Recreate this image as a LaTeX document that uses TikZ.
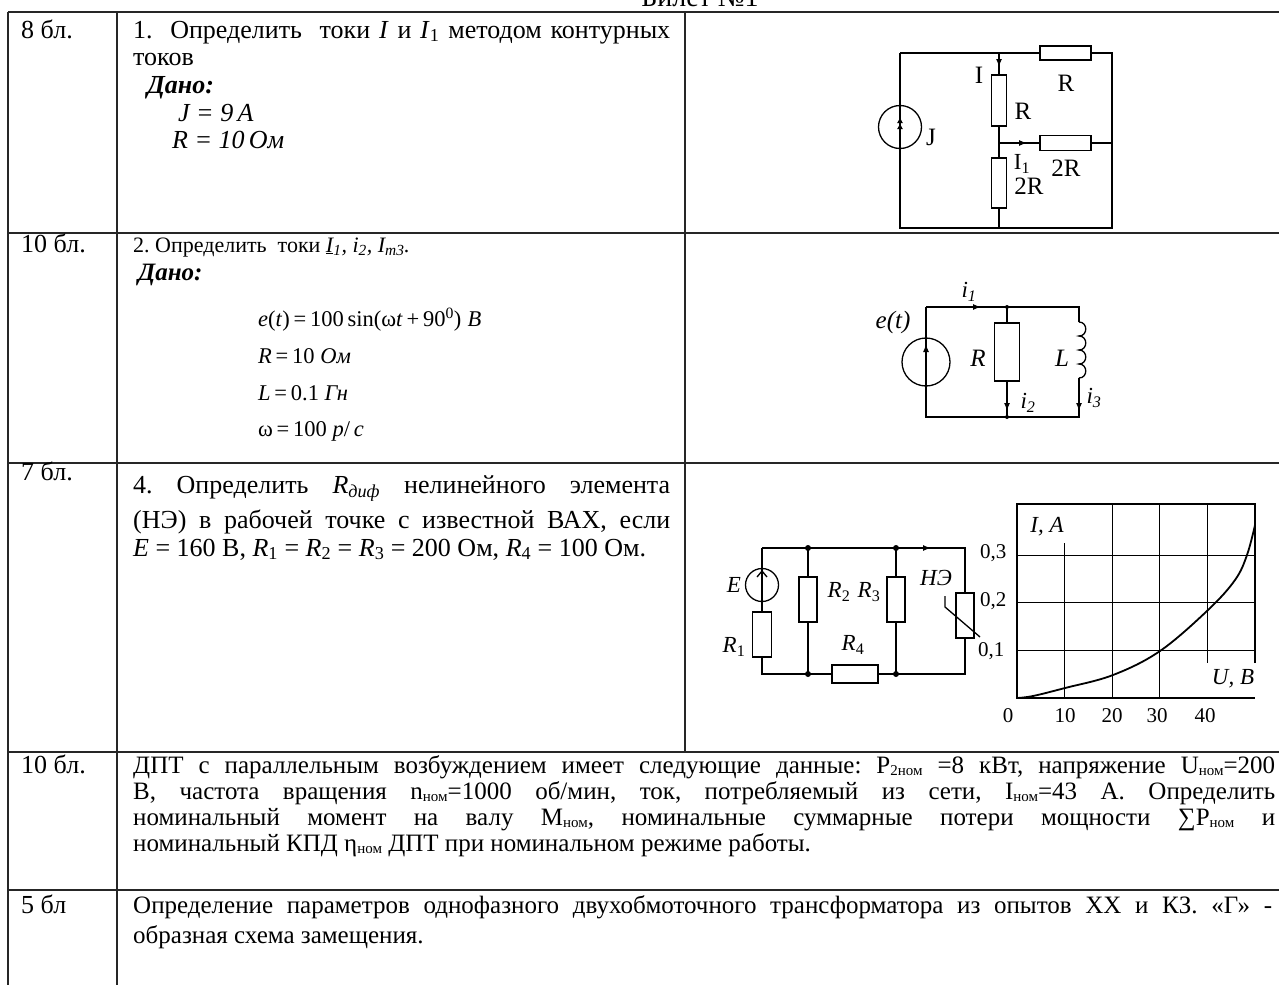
\documentclass[tikz,border=0pt]{standalone}
\usepackage{fontspec}
\setmainfont{Liberation Serif}
\usetikzlibrary{arrows.meta}
\frenchspacing
\newcommand{\lsub}[1]{\raisebox{-0.2ex}{\fontsize{15}{16}\selectfont #1}}
\begin{document}
\begin{tikzpicture}[x=1pt,y=-1pt,
  tbl/.style={line width=1.6pt,draw=black!85},
  wire/.style={line width=1.3pt},
  res/.style={draw,line width=1.3pt,fill=white,inner sep=0pt,rectangle},
  body/.style={font=\fontsize{25}{28}\selectfont,inner sep=0pt,anchor=base west},
  big/.style={body,font=\fontsize{26}{28}\selectfont},
  small/.style={body,font=\fontsize{22}{24}\selectfont},
  frml/.style={body,font=\fontsize{22.5}{24}\selectfont},
  lab/.style={font=\fontsize{23}{24}\selectfont,inner sep=0pt},
  labb/.style={font=\fontsize{25}{26}\selectfont,inner sep=0pt},
  tk/.style={font=\fontsize{21}{24}\selectfont,inner sep=0pt},
  cur/.style={line width=1.3pt,-{Latex[length=8pt,width=6pt]}},
  jdot/.style={circle,fill=black,inner sep=0pt,minimum size=6pt},
  sdot/.style={circle,fill=black,inner sep=0pt,minimum size=4pt},
  src/.style={circle,draw,line width=1.3pt,inner sep=0pt},
  gridl/.style={line width=1pt},
  frm/.style={line width=1.4pt},
]
\useasboundingbox (0,0) rectangle (1279,985);
\fill[white] (0,0) rectangle (1279,985);

\node[big,anchor=base,font=\fontsize{28}{30}\selectfont] (title) at (700,6) {Билет №1};

% ---------- table ----------
\draw[tbl] (8,12) -- (1279,12);
\draw[tbl] (8,233) -- (1279,233);
\draw[tbl] (8,463) -- (1279,463);
\draw[tbl] (8,752) -- (1279,752);
\draw[tbl] (8,890) -- (1279,890);
\draw[tbl] (8,12) -- (8,985);
\draw[tbl] (117,12) -- (117,985);
\draw[tbl] (685,12) -- (685,752);

% ---------- row 1 ----------
\node[big] (s1) at (21,38) {8 бл.};
\node[big] (t1a) at (133,38) {\makebox[537pt][s]{1. \ Определить \ токи \textit{I} и \textit{I}\textsubscript{1} методом контурных}};
\node[big] (t1b) at (133,65) {токов};
\node[big] (t1c) at (147,93) {\textbf{\textit{Дано:}}};
\node[big] (t1d) at (178,121) {\textit{J = 9\,A}};
\node[big] (t1e) at (172,148) {\textit{R = 10\,Ом}};

% ---------- row 2 ----------
\node[big] (s2) at (21,252) {10 бл.};
\node[small] (t2a) at (133,252) {2. Определить \ токи \textit{\underline{I}\textsubscript{1}, i\textsubscript{2}, I\textsubscript{m3}.}};
\node[body] (t2b) at (138,280) {\textbf{\textit{Дано:}}};
\node[frml] (t2c) at (258,326) {\textit{e}(\textit{t})\,=\,100\,sin(ω\textit{t}\,+\,90\textsuperscript{0})\;\textit{B}};
\node[frml] (t2d) at (258,363) {\textit{R}\,=\,10 \textit{Ом}};
\node[frml] (t2e) at (258,400) {\textit{L}\,=\,0.1 \textit{Гн}};
\node[frml] (t2f) at (258,436) {ω\,=\,100 \textit{p}/\,\textit{c}};

% ---------- row 3 ----------
\node[big] (s3) at (21,480) {7 бл.};
\node[big] (t3a) at (133,493) {\makebox[537pt][s]{4. Определить \textit{R}\textsubscript{\textit{диф}} нелинейного элемента}};
\node[big] (t3b) at (133,528) {\makebox[537pt][s]{(НЭ) в рабочей точке с известной ВАХ, если}};
\node[big] (t3c) at (133,556) {\textit{E} = 160 В, \textit{R}\textsubscript{1} = \textit{R}\textsubscript{2} = \textit{R}\textsubscript{3} = 200 Ом, \textit{R}\textsubscript{4} = 100 Ом.};

% ---------- row 4 ----------
\node[big] (s4) at (21,773) {10 бл.};
\node[body] (t4a) at (133,773) {\makebox[1142pt][s]{ДПТ с параллельным возбуждением имеет следующие данные: P\lsub{2ном} =8 кВт, напряжение U\lsub{ном}=200}};
\node[body] (t4b) at (133,799) {\makebox[1142pt][s]{В, частота вращения n\lsub{ном}=1000 об/мин, ток, потребляемый из сети, I\lsub{ном}=43 А. Определить}};
\node[body] (t4c) at (133,825) {\makebox[1142pt][s]{номинальный момент на валу M\lsub{ном}, номинальные суммарные потери мощности ∑P\lsub{ном} и}};
\node[body] (t4d) at (133,851) {номинальный КПД η\lsub{ном} ДПТ при номинальном режиме работы.};

% ---------- row 5 ----------
\node[big] (s5) at (21,913) {5 бл};
\node[body] (t5a) at (133,913) {\makebox[1139pt][s]{Определение параметров однофазного двухобмоточного трансформатора из опытов ХХ и КЗ. «Г» -}};
\node[body] (t5b) at (133,943) {образная схема замещения.};

% ---------- circuit 1 ----------
\coordinate (a1) at (900,53);
\coordinate (a2) at (999,53);
\coordinate (a3) at (1112,53);
\coordinate (a4) at (1112,143);
\coordinate (a5) at (1112,228);
\coordinate (a6) at (999,228);
\coordinate (a7) at (900,228);
\coordinate (a8) at (999,143);
\node[res,minimum width=51pt,minimum height=14pt] (rt) at (1065.5,53) {};
\node[res,minimum width=15pt,minimum height=51pt] (rm) at (999,100.5) {};
\node[res,minimum width=51pt,minimum height=15pt] (rh) at (1065.5,143) {};
\node[res,minimum width=15pt,minimum height=50pt] (rb) at (999,183) {};
\draw[wire] (a1) -- (a2) -- (rt.west);
\draw[wire] (rt.east) -- (a3) -- (a4) -- (a5) -- (a6) -- (a7) -- (a1);
\draw[wire] (a2) -- (rm.north);
\draw[wire] (rm.south) -- (a8) -- (rb.north);
\draw[wire] (rb.south) -- (a6);
\draw[wire] (a8) -- (rh.west);
\draw[wire] (rh.east) -- (a4);
\node[src,minimum size=43pt] (js) at (900,127) {};
\coordinate (jsa) at (900,142);
\coordinate (jsb) at (900,117);
\draw[line width=1.3pt,-{Latex[length=6pt,width=6pt]Latex[length=6pt,width=6pt]}] (jsa) -- (jsb);
\coordinate (ia1) at (999,53);
\coordinate (ib1) at (999,67);
\draw[cur] (ia1) -- (ib1);
\coordinate (ia2) at (1004,143);
\coordinate (ib2) at (1027,143);
\draw[cur] (ia2) -- (ib2);
\node[labb] (lI) at (979,75) {I};
\node[lab] (lI1) at (1022,164) {I\textsubscript{1}};
\node[labb] (lR1) at (1066,83) {R};
\node[labb] (lR2) at (1023,111) {R};
\node[labb] (lR3) at (1066,168) {2R};
\node[labb] (lR4) at (1029,186) {2R};
\node[labb] (lJ) at (931,137) {J};

% ---------- circuit 2 ----------
\coordinate (b1) at (926,307);
\coordinate (b2) at (1007,307);
\coordinate (b3) at (1079,307);
\coordinate (b4) at (1079,417);
\coordinate (b5) at (1007,417);
\coordinate (b6) at (926,417);
\coordinate (bl1) at (1079,322);
\coordinate (bl2) at (1079,378);
\node[res,minimum width=25pt,minimum height=58pt] (rR) at (1007,352) {};
\draw[wire] (b1) -- (b3) -- (bl1);
\draw[wire] (bl1) .. controls (1088,322) and (1088,336) .. (1079,336)
  .. controls (1088,336) and (1088,350) .. (1079,350)
  .. controls (1088,350) and (1088,364) .. (1079,364)
  .. controls (1088,364) and (1088,378) .. (bl2);
\draw[wire] (bl2) -- (b4) -- (b6) -- (b1);
\draw[wire] (b2) -- (rR.north);
\draw[wire] (rR.south) -- (b5);
\node[sdot] (d1) at (b2) {};
\node[sdot] (d2) at (b5) {};
\node[src,minimum size=48pt] (es) at (926,362) {};
\coordinate (ea) at (926,364);
\coordinate (eb) at (926,344);
\draw[cur] (ea) -- (eb);
\coordinate (i1a) at (960,307);
\coordinate (i1b) at (981,307);
\draw[cur] (i1a) -- (i1b);
\coordinate (i2a) at (1007,392);
\coordinate (i2b) at (1007,411);
\draw[cur] (i2a) -- (i2b);
\coordinate (i3a) at (1079,392);
\coordinate (i3b) at (1079,411);
\draw[cur] (i3a) -- (i3b);
\node[labb] (le) at (893,322) {\textit{e(t)}};
\node[labb] (lRR) at (978,358) {\textit{R}};
\node[labb] (lL) at (1062,358) {\textit{L}};
\node[lab] (li1) at (969,292) {\textit{i\textsubscript{1}}};
\node[lab] (li2) at (1028,403) {\textit{i\textsubscript{2}}};
\node[lab] (li3) at (1094,398) {\textit{i\textsubscript{3}}};

% ---------- circuit 3 ----------
\coordinate (c1) at (762,548);
\coordinate (c2) at (808,548);
\coordinate (c3) at (896,548);
\coordinate (c4) at (965,548);
\coordinate (c5) at (965,674);
\coordinate (c6) at (896,674);
\coordinate (c7) at (808,674);
\coordinate (c8) at (762,674);
\node[res,minimum width=19pt,minimum height=45pt] (R1) at (762,634.5) {};
\node[res,minimum width=18pt,minimum height=45pt] (R2) at (808,599.5) {};
\node[res,minimum width=18pt,minimum height=45pt] (R3) at (896,599.5) {};
\node[res,minimum width=46pt,minimum height=18pt] (R4) at (855,674) {};
\node[res,minimum width=18pt,minimum height=45pt] (NE) at (965,615.5) {};
\draw[wire] (c1) -- (R1.north);
\draw[wire] (R1.south) -- (c8) -- (R4.west);
\draw[wire] (R4.east) -- (c5) -- (NE.south);
\draw[wire] (NE.north) -- (c4) -- (c1);
\draw[wire] (c2) -- (R2.north);
\draw[wire] (R2.south) -- (c7);
\draw[wire] (c3) -- (R3.north);
\draw[wire] (R3.south) -- (c6);
\node[src,minimum size=33pt] (Es) at (762,585) {};
\coordinate (Ea) at (762,600);
\coordinate (Eb) at (762,570);
\draw[line width=1.3pt,-{Straight Barb[length=6pt,width=10pt]}] (Ea) -- (Eb);
\node[jdot] (e1) at (c2) {};
\node[jdot] (e2) at (c3) {};
\node[jdot] (e3) at (c6) {};
\node[jdot] (e4) at (c7) {};
\coordinate (ca) at (905,548);
\coordinate (cb) at (931,548);
\draw[cur] (ca) -- (cb);
\draw[wire] (945,596) -- (945,607) -- (980,637);
\node[lab] (lE) at (734,585) {\textit{E}};
\node[lab] (lR1c) at (734,647) {\textit{R}\textsubscript{1}};
\node[lab] (lR2c) at (839,592) {\textit{R}\textsubscript{2}};
\node[lab] (lR3c) at (869,592) {\textit{R}\textsubscript{3}};
\node[lab] (lR4c) at (853,645) {\textit{R}\textsubscript{4}};
\node[lab] (lNE) at (936,578) {\textit{НЭ}};

% ---------- graph ----------
\draw[gridl] (1064.6,543) -- (1064.6,698);
\draw[gridl] (1112.2,504) -- (1112.2,698);
\draw[gridl] (1159.8,504) -- (1159.8,698);
\draw[gridl] (1207.4,504) -- (1207.4,663);
\draw[gridl] (1017,555) -- (1255,555);
\draw[gridl] (1017,602) -- (1255,602);
\draw[gridl] (1017,650) -- (1255,650);
\draw[frm] (1255,663) -- (1255,504) -- (1017,504) -- (1017,698) -- (1255,698);
\draw[line width=1.8pt] plot[smooth,tension=0.6] coordinates {(1017,698) (1033,696) (1065,688) (1113,675) (1160,651) (1208,610) (1235,580) (1247,555) (1255,525)};
\node[lab] (gIA) at (1047,527) {\textit{I, A}};
\node[lab] (gUB) at (1233,679) {\textit{U, B}};
\node[tk,anchor=west] (g3) at (980,553) {0,3};
\node[tk,anchor=west] (g2) at (980,601) {0,2};
\node[tk,anchor=west] (g1) at (978,651) {0,1};
\node[tk] (x0) at (1008,716) {0};
\node[tk] (x1) at (1065,716) {10};
\node[tk] (x2) at (1112,716) {20};
\node[tk] (x3) at (1157,716) {30};
\node[tk] (x4) at (1205,716) {40};
\end{tikzpicture}
\end{document}
